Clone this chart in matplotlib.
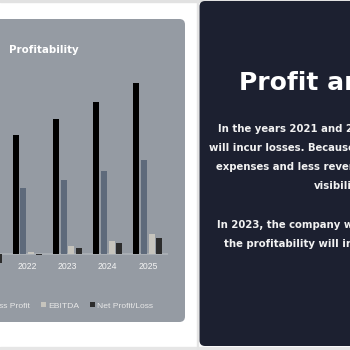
import matplotlib.pyplot as plt
from matplotlib.patches import FancyBboxPatch
import numpy as np

years = ['2021', '2022', '2023', '2024', '2025']
revenue = [1000, 1190, 1350, 1520, 1710]
gross_profit = [550, 660, 740, 830, 940]
ebitda = [-50, 25, 80, 135, 205]
net_profit = [-90, -10, 60, 110, 165]

series = [
    ('Revenue', revenue, '#000000'),
    ('Gross Profit', gross_profit, '#5E6A7B'),
    ('EBITDA', ebitda, '#C6C4BD'),
    ('Net Profit/Loss', net_profit, '#2C2C2C'),
]

W = H = 350.0
def fx(px):
    return px / W
def fy(py):
    return 1 - py / H

fig = plt.figure(figsize=(3.5, 3.5), dpi=100)
fig.patch.set_facecolor('white')

# slide background: light borders, gray chart card, dark text card
fig.add_artist(plt.Rectangle((0, fy(2)), 1, 2 / H, transform=fig.transFigure,
                             color='#E2E2E2', zorder=-6))
fig.add_artist(plt.Rectangle((0, 0), 1, 3 / H, transform=fig.transFigure,
                             color='#E6E6E6', zorder=-6))
fig.add_artist(plt.Rectangle((fx(197), 0), 1 / W, 1, transform=fig.transFigure,
                             color='#E4E4E4', zorder=-6))
gray_card = FancyBboxPatch((fx(-20), fy(322)), fx(205), (322 - 19) / H,
                           boxstyle='round,pad=0,rounding_size=0.016',
                           transform=fig.transFigure, facecolor='#959BA3',
                           edgecolor='none', zorder=-5)
dark_card = FancyBboxPatch((fx(199.5), fy(346)), fx(200), (346 - 1) / H,
                           boxstyle='round,pad=0,rounding_size=0.016',
                           transform=fig.transFigure, facecolor='#1C2030',
                           edgecolor='none', zorder=-5)
fig.add_artist(gray_card)
fig.add_artist(dark_card)

# chart
ax = fig.add_axes([fx(-33), fy(258), fx(201), (258 - 60) / H])
ax.set_facecolor('none')
x = np.arange(len(years))
step = 0.19
width = 0.15
handles = []
for i, (name, vals, color) in enumerate(series):
    b = ax.bar(x + (i - 1.5) * step, vals, width, color=color, label=name,
               clip_on=False, zorder=3)
    handles.append(b)
ax.axhline(0, color='#AEB3B9', lw=1.1, zorder=2)
ax.set_xlim(-0.5, 4.5)
ax.set_ylim(-40, 1940)
ax.set_xticks(x, years)
ax.tick_params(axis='x', length=0, pad=2.6, labelsize=6.2, labelcolor='#F4F4F4')
for lab in ax.get_xticklabels():
    lab.set_fontfamily('Liberation Sans')
ax.set_yticks([])
for s in ax.spines.values():
    s.set_visible(False)

fig.text(fx(9), fy(50), 'Profitability', fontsize=7.4, fontweight='bold',
         color='white', va='center', ha='left')

leg = fig.legend(handles=handles, loc='center right',
                 bbox_to_anchor=(fx(153), fy(306)), ncol=4, frameon=False,
                 prop={'family': 'Liberation Sans', 'size': 6.1},
                 handlelength=0.55, handleheight=0.55, handletextpad=0.25,
                 columnspacing=1.35, borderpad=0, borderaxespad=0)
for t in leg.get_texts():
    t.set_color('#E8E8E8')

# text card
fig.text(fx(239), fy(90), 'Profit and Loss', fontsize=18, fontweight='bold',
         color='white', ha='left', va='baseline')
body = [
    (218, 129, 'In the years 2021 and 2022, the company'),
    (209, 148, 'will incur losses. Because of the high'),
    (216, 167, 'expenses and less revenue due to low'),
    (314, 186, 'visibility.'),
    (217, 225, 'In 2023, the company will make a profit and'),
    (224, 244, 'the profitability will increase every year.'),
]
for px, py, line in body:
    fig.text(fx(px), fy(py), line, fontsize=7.3, fontweight='bold',
             color='#F2F2F2', ha='left', va='center')

fig.savefig('out.png', dpi=100)
